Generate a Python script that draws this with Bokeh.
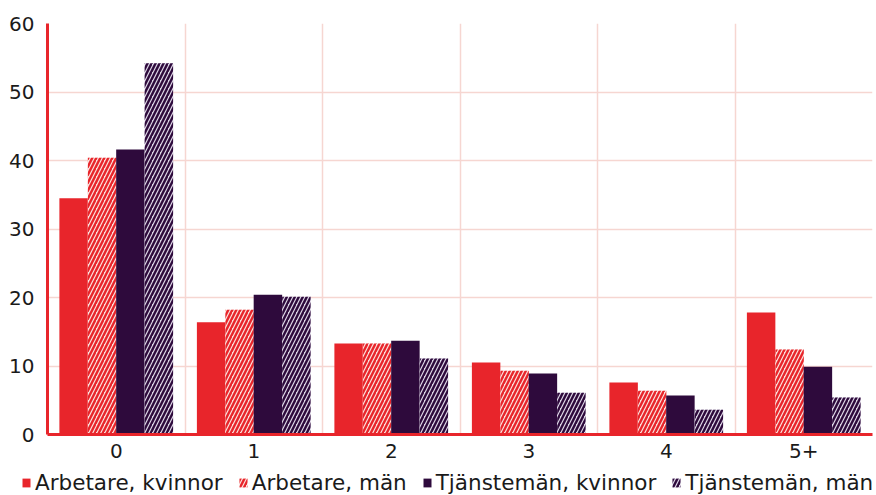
from bokeh.plotting import figure
from bokeh.models import ColumnDataSource, FixedTicker, Legend, LegendItem, Range1d
from bokeh.transform import dodge
from bokeh.embed import file_html
from bokeh.resources import INLINE

categories = ["0", "1", "2", "3", "4", "5+"]
arbetare_kvinnor = [34.5, 16.4, 13.3, 10.5, 7.6, 17.8]
arbetare_man = [40.4, 18.2, 13.3, 9.3, 6.4, 12.4]
tjansteman_kvinnor = [41.6, 20.4, 13.7, 8.9, 5.7, 9.9]
tjansteman_man = [54.2, 20.1, 11.1, 6.1, 3.6, 5.4]
series_names = ["Arbetare, kvinnor", "Arbetare, män", "Tjänstemän, kvinnor", "Tjänstemän, män"]
y_ticks = [0, 10, 20, 30, 40, 50, 60]

RED = "#E8252B"
DARK = "#2E0A3C"
RED_LIGHT = "#FBE0DC"
DARK_LIGHT = "#DCD5E6"
FONT = "DejaVu Sans"
TXT = "#1A1A1A"

xs = [i + 0.5 for i in range(len(categories))]
src = ColumnDataSource(dict(x=xs, ak=arbetare_kvinnor, am=arbetare_man,
                            tk=tjansteman_kvinnor, tm=tjansteman_man))

p = figure(width=876, height=467, output_backend="svg", toolbar_location=None,
           x_range=Range1d(0, len(categories)), y_range=Range1d(0, 60),
           min_border_left=47, min_border_right=4, min_border_top=23, min_border_bottom=33)
p.outline_line_color = None

styles = [
    dict(fill_color=RED, line_color=None),
    dict(fill_color=RED_LIGHT, line_color=None, hatch_pattern="right_diagonal_line",
         hatch_color=RED, hatch_weight=2.4, hatch_scale=8),
    dict(fill_color=DARK, line_color=None),
    dict(fill_color=DARK_LIGHT, line_color=None, hatch_pattern="right_diagonal_line",
         hatch_color=DARK, hatch_weight=2.4, hatch_scale=8),
]
cols = ["ak", "am", "tk", "tm"]
offsets = [-0.31, -0.103, 0.103, 0.31]
w = 0.207
for c, off, st in zip(cols, offsets, styles):
    p.vbar(x=dodge("x", off, range=p.x_range), top=c, width=w, source=src, **st)

# grid
p.xgrid.ticker = FixedTicker(ticks=list(range(1, len(categories) + 1)))
p.ygrid.ticker = FixedTicker(ticks=y_ticks)
for g in (p.xgrid, p.ygrid):
    g.grid_line_color = "#F6D6D1"
    g.grid_line_width = 1.5

# axes
p.xaxis.ticker = FixedTicker(ticks=xs)
p.xaxis.major_label_overrides = {x: c for x, c in zip(xs, categories)}
p.yaxis.ticker = FixedTicker(ticks=y_ticks)
for ax in (p.xaxis, p.yaxis):
    ax.axis_line_color = RED
    ax.axis_line_width = 3
    ax.major_tick_line_color = None
    ax.minor_tick_line_color = None
    ax.major_tick_out = 0
    ax.major_tick_in = 0
    ax.major_label_text_font = FONT
    ax.major_label_text_font_size = "20px"
    ax.major_label_text_color = TXT
p.yaxis.major_label_standoff = 13
p.xaxis.major_label_standoff = 9

# legend strip (renderers share the data but lie outside this strip's ranges)
lg = figure(width=876, height=28, output_backend="svg", toolbar_location=None,
            x_range=Range1d(100, 101), y_range=Range1d(100, 101),
            min_border=0)
lg.outline_line_color = None
lg.axis.visible = False
lg.grid.visible = False
lrs = [lg.vbar(x="x", top=c, width=w, source=src, **st) for c, st in zip(cols, styles)]
legend = Legend(items=[LegendItem(label=n, renderers=[r], index=0) for n, r in zip(series_names, lrs)],
                orientation="horizontal", location=(21, 0),
                label_text_font=FONT, label_text_font_size="21.5px", label_text_color=TXT,
                glyph_width=10, glyph_height=11, label_standoff=4, spacing=15,
                padding=0, margin=0, border_line_color=None, background_fill_alpha=0)
lg.add_layout(legend, "center")

open("out.html", "w").write(file_html([p, lg], INLINE))
